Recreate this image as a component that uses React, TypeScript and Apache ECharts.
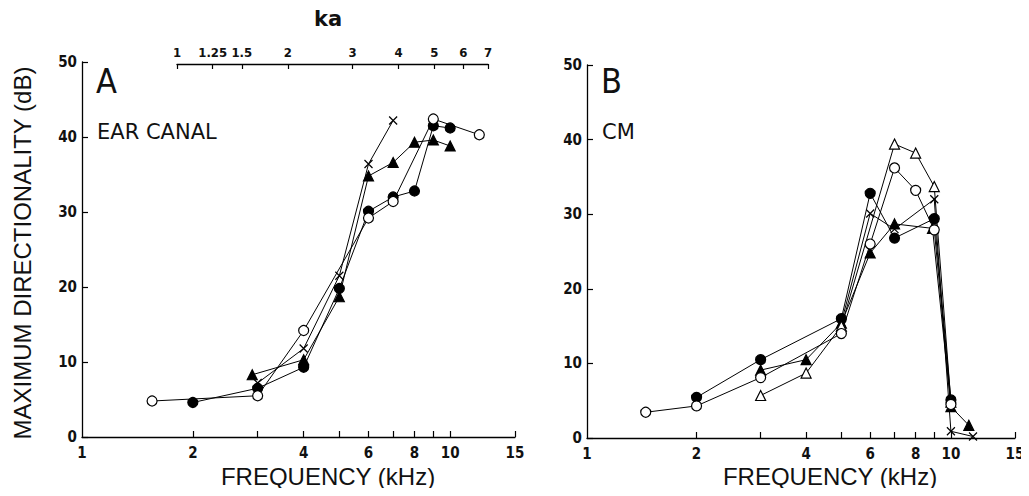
import React, { useEffect, useRef } from "react";
import * as echarts from "echarts";

// ---------- data (frequency in kHz, directionality in dB) ----------
const FREQ_TICKS = [2, 3, 4, 5, 6, 7, 8, 9, 10, 15];
const FREQ_LABELS = [1, 2, 4, 6, 8, 10, 15];
const KA_TICKS = [1, 1.25, 1.5, 2, 3, 4, 5, 6, 7];
const DB_TICKS = [0, 10, 20, 30, 40, 50];

// Panel A : ear canal
const A_OPEN_CIRCLE_F = [1.55, 3, 4, 6, 7, 9, 12];
const A_OPEN_CIRCLE_DB = [4.8, 5.5, 14.2, 29.2, 31.4, 42.4, 40.3];
const A_FILLED_CIRCLE_F = [2, 3, 4, 5, 6, 7, 8, 9, 10];
const A_FILLED_CIRCLE_DB = [4.6, 6.5, 9.3, 19.8, 30.1, 32.0, 32.8, 41.5, 41.2];
const A_FILLED_TRI_F = [2.9, 4, 5, 6, 7, 8, 9, 10];
const A_FILLED_TRI_DB = [8.3, 10.3, 18.7, 34.8, 36.6, 39.3, 39.6, 38.8];
const A_CROSS_F = [3, 4, 5, 6, 7];
const A_CROSS_DB = [7.2, 11.8, 21.5, 36.4, 42.2];

// Panel B : cochlear microphonic
const B_OPEN_CIRCLE_F = [1.45, 2, 3, 5, 6, 7, 8, 9, 10];
const B_OPEN_CIRCLE_DB = [3.45, 4.3, 8.1, 14.0, 26.0, 36.2, 33.2, 27.9, 4.5];
const B_FILLED_CIRCLE_F = [2, 3, 5, 6, 7, 9, 10];
const B_FILLED_CIRCLE_DB = [5.45, 10.5, 16.0, 32.8, 26.8, 29.4, 5.1];
const B_FILLED_TRI_F = [3, 4, 5, 6, 7, 8.9, 10, 11.2];
const B_FILLED_TRI_DB = [9.1, 10.5, 15.4, 24.8, 28.7, 28.1, 4.2, 1.7];
const B_OPEN_TRI_F = [3, 4, 5, 7, 8, 9, 10];
const B_OPEN_TRI_DB = [5.7, 8.7, 15.0, 39.4, 38.2, 33.7, 4.8];
const B_CROSS_F = [5, 6, 7, 9, 10, 11.5];
const B_CROSS_DB = [15.5, 30.1, 28.0, 32.0, 0.9, 0.2];

// ---------- helpers ----------
const L = (v: number) => Math.log10(v);
const fmt = (v: number) => String(Math.round(Math.pow(10, v) * 100) / 100);
const pts = (f: number[], d: number[]) => f.map((x, i) => [L(x), d[i]]);

const TICK_FONT = {
  fontFamily: "DejaVu Sans Condensed",
  fontWeight: "bold" as const,
  fontSize: 15,
  color: "#111",
};
const CROSS = "path://M0 0L10 10M10 0L0 10";

type Kind = "openCircle" | "filledCircle" | "filledTri" | "openTri" | "cross";

function mk(kind: Kind, f: number[], d: number[], axis: number) {
  const symbol =
    kind === "openCircle" || kind === "filledCircle"
      ? "circle"
      : kind === "cross"
      ? CROSS
      : "triangle";
  const open = kind === "openCircle" || kind === "openTri";
  return {
    type: "line",
    xAxisIndex: axis,
    yAxisIndex: axis,
    data: pts(f, d),
    symbol,
    symbolSize: kind === "cross" ? 8 : 10,
    showSymbol: true,
    lineStyle: { color: "#000", width: 1 },
    itemStyle: {
      color: open ? "#fff" : "#000",
      borderColor: "#000",
      borderWidth: 1.2,
    },
    z: open ? 3 : 2,
  };
}

function freqAxis(grid: number) {
  return {
    type: "value",
    gridIndex: grid,
    min: 0,
    max: L(15),
    axisLine: { lineStyle: { color: "#000", width: 1.3 } },
    axisTick: {
      inside: true,
      length: 6,
      customValues: FREQ_TICKS.map(L),
      lineStyle: { color: "#000", width: 1.2 },
    },
    axisLabel: {
      customValues: FREQ_LABELS.map(L),
      formatter: (v: number) => fmt(v),
      margin: 8,
      ...TICK_FONT,
    },
    splitLine: { show: false },
  };
}

function dbAxis(grid: number) {
  return {
    type: "value",
    gridIndex: grid,
    min: 0,
    max: 50,
    interval: 10,
    axisLine: { show: true, lineStyle: { color: "#000", width: 1.3 } },
    axisTick: {
      show: true,
      inside: true,
      length: 6,
      customValues: DB_TICKS,
      lineStyle: { color: "#000", width: 1.2 },
    },
    axisLabel: { margin: 5, ...TICK_FONT },
    splitLine: { show: false },
  };
}

export default function App() {
  const ref = useRef<HTMLDivElement>(null);
  useEffect(() => {
    if (!ref.current) return;
    const chart = echarts.init(ref.current, undefined, { renderer: "svg" });
    const title = { fontFamily: "Liberation Sans", fill: "#111" };
    const label = (text: string, x: number, y: number, size: number, extra = {}) => ({
      type: "text",
      x,
      y,
      style: {
        text,
        fontFamily: "DejaVu Sans",
        fontSize: size,
        fill: "#111",
        textVerticalAlign: "middle",
        ...extra,
      },
    });
    chart.setOption({
      animation: false,
      backgroundColor: "#fff",
      grid: [
        { left: 82, top: 62, width: 433, height: 375 },
        { left: 587, top: 65, width: 428, height: 373 },
        { left: 177, top: 63, width: 311, height: 1 },
      ],
      xAxis: [
        freqAxis(0),
        freqAxis(1),
        {
          type: "value",
          gridIndex: 2,
          position: "top",
          min: 0,
          max: L(7),
          axisLine: { lineStyle: { color: "#000", width: 1.3 } },
          axisTick: {
            inside: true,
            length: 5,
            customValues: KA_TICKS.map(L),
            lineStyle: { color: "#000", width: 1.2 },
          },
          axisLabel: {
            customValues: KA_TICKS.map(L),
            formatter: (v: number) => fmt(v),
            margin: 4,
            ...TICK_FONT,
            fontSize: 13,
          },
          splitLine: { show: false },
        },
      ],
      yAxis: [
        dbAxis(0),
        dbAxis(1),
        { type: "value", gridIndex: 2, show: false, min: 0, max: 1 },
      ],
      series: [
        mk("filledTri", A_FILLED_TRI_F, A_FILLED_TRI_DB, 0),
        mk("cross", A_CROSS_F, A_CROSS_DB, 0),
        mk("filledCircle", A_FILLED_CIRCLE_F, A_FILLED_CIRCLE_DB, 0),
        mk("openCircle", A_OPEN_CIRCLE_F, A_OPEN_CIRCLE_DB, 0),
        mk("filledTri", B_FILLED_TRI_F, B_FILLED_TRI_DB, 1),
        mk("cross", B_CROSS_F, B_CROSS_DB, 1),
        mk("filledCircle", B_FILLED_CIRCLE_F, B_FILLED_CIRCLE_DB, 1),
        mk("openTri", B_OPEN_TRI_F, B_OPEN_TRI_DB, 1),
        mk("openCircle", B_OPEN_CIRCLE_F, B_OPEN_CIRCLE_DB, 1),
      ],
      graphic: [
        {
          type: "text",
          x: 22,
          y: 253,
          rotation: Math.PI / 2,
          style: {
            text: "MAXIMUM DIRECTIONALITY (dB)",
            ...title,
            fontSize: 24,
            textAlign: "center",
            textVerticalAlign: "middle",
          },
        },
        {
          type: "text",
          x: 328,
          y: 476,
          style: {
            text: "FREQUENCY (kHz)",
            ...title,
            fontSize: 24,
            textAlign: "center",
            textVerticalAlign: "middle",
          },
        },
        {
          type: "text",
          x: 830,
          y: 476,
          style: {
            text: "FREQUENCY (kHz)",
            ...title,
            fontSize: 24,
            textAlign: "center",
            textVerticalAlign: "middle",
          },
        },
        label("ka", 328, 19, 21, { fontWeight: "bold", textAlign: "center" }),
        label("A", 96, 81, 34, { fontFamily: "DejaVu Sans Condensed", fontWeight: 300 }),
        label("EAR CANAL", 97, 132, 21),
        label("B", 601, 81, 34, { fontFamily: "DejaVu Sans Condensed", fontWeight: 300 }),
        label("CM", 602, 132, 21),
      ],
    });
    return () => chart.dispose();
  }, []);
  return <div ref={ref} style={{ width: 1029, height: 496, margin: -8 }} />;
}
